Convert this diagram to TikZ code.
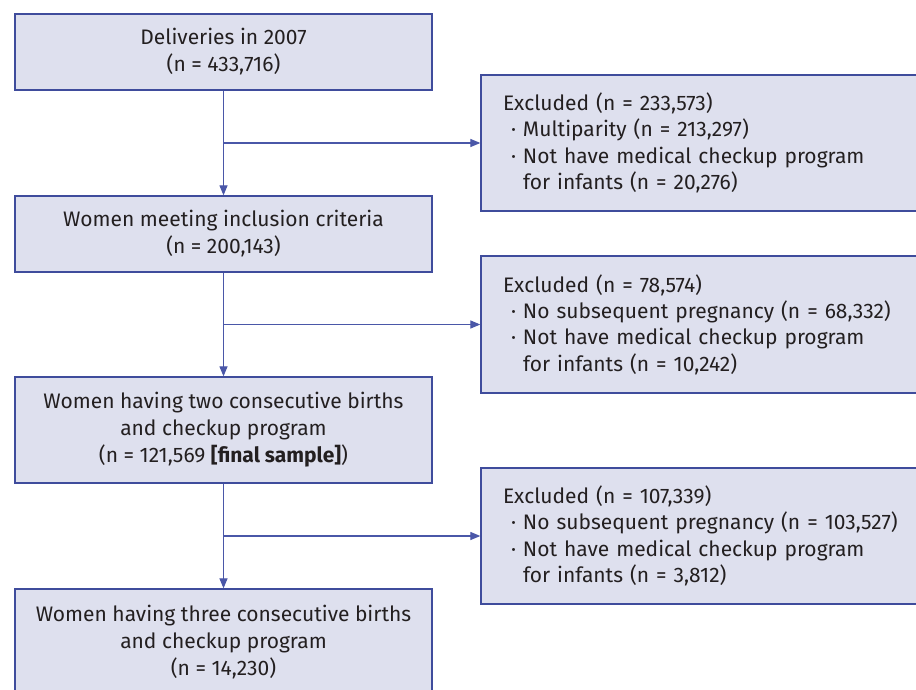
\documentclass[tikz,border=0pt]{standalone}
\usepackage{fontspec}
\setmainfont{Fira Sans}
\usetikzlibrary{arrows.meta}
\definecolor{boxfill}{HTML}{DEE0EE}
\definecolor{boxdraw}{HTML}{3F4C9C}
\definecolor{linecol}{HTML}{4A57A8}
\definecolor{txt}{HTML}{231F20}
\newcommand{\bulitem}{\hspace*{8pt}\makebox[12pt][l]{·}}
\newcommand{\contitem}{\hspace*{20pt}}
\begin{document}
\begin{tikzpicture}[x=1pt,y=-1pt,
  mainbox/.style={draw=boxdraw, fill=boxfill, line width=1.3pt, text=txt,
    minimum width=417pt, inner sep=0pt, align=center,
    font=\fontsize{21}{27}\selectfont},
  exbox/.style={draw=boxdraw, fill=boxfill, line width=1.3pt, text=txt,
    text width=396pt, inner xsep=22pt, inner ysep=0pt, align=left,
    font=\fontsize{21}{26.3}\selectfont},
  flow/.style={draw=linecol, line width=1.2pt, -{Triangle[width=8pt,length=10pt]}},
]
\useasboundingbox (0,0) rectangle (916,690);
\clip (0,0) rectangle (916,690);
\fill[white] (0,0) rectangle (916,690);

\node[mainbox, minimum height=76pt] (b1) at (223.5,52) {Deliveries in 2007\\(n = 433,716)};
\node[mainbox, minimum height=76pt] (b2) at (223.5,234) {Women meeting inclusion criteria\\(n = 200,143)};
\node[mainbox, minimum height=106pt] (b3) at (223.5,430) {Women having two consecutive births\\and checkup program\\(n = 121,569 \textbf{[final sample]})};
\node[mainbox, minimum height=106pt] (b4) at (223.5,642) {Women having three consecutive births\\and checkup program\\(n = 14,230)};

\node[exbox, minimum height=136pt] (e1) at (701,143) {Excluded (n = 233,573)\\
\bulitem Multiparity (n = 213,297)\\
\bulitem Not have medical checkup program\\
\contitem for infants (n = 20,276)};
\node[exbox, minimum height=137pt] (e2) at (701,324.5) {Excluded (n = 78,574)\\
\bulitem No subsequent pregnancy (n = 68,332)\\
\bulitem Not have medical checkup program\\
\contitem for infants (n = 10,242)};
\node[exbox, minimum height=136pt] (e3) at (701,536) {Excluded (n = 107,339)\\
\bulitem No subsequent pregnancy (n = 103,527)\\
\bulitem Not have medical checkup program\\
\contitem for infants (n = 3,812)};

\draw[flow] (b1) -- (b2);
\draw[flow] (b2) -- (b3);
\draw[flow] (b3) -- (b4);
\draw[flow] (b1.south |- e1.west) -- (e1.west);
\draw[flow] (b2.south |- e2.west) -- (e2.west);
\draw[flow] (b3.south |- e3.west) -- (e3.west);
\end{tikzpicture}
\end{document}
